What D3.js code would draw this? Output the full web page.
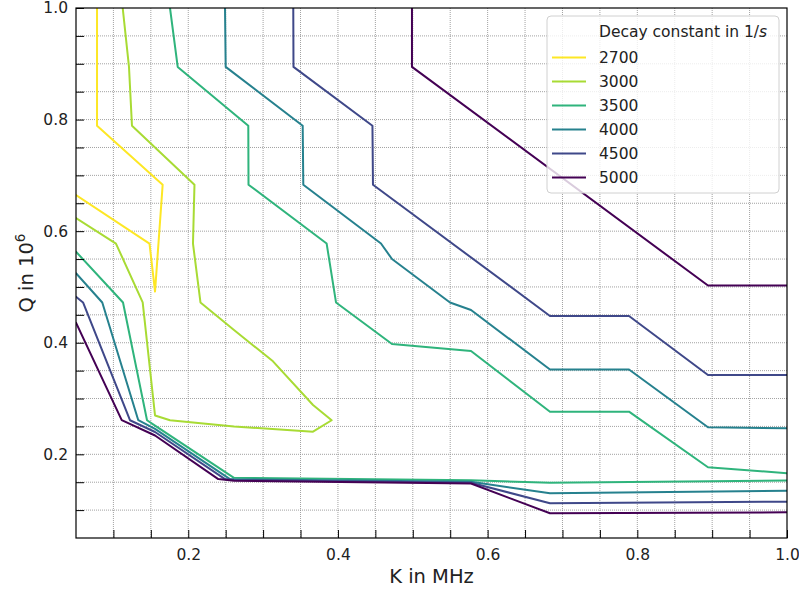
<!DOCTYPE html>
<html>
<head>
<meta charset="utf-8">
<script src="https://cdn.jsdelivr.net/npm/d3@7"></script>
<style>
  html, body { margin: 0; padding: 0; background: #fff; }
  svg { display: block; font-family: "DejaVu Sans", sans-serif; }
</style>
</head>
<body>
<svg id="chart" width="799" height="590"></svg>
<script>
// ---- Data (K in MHz, Q in 10^6) ----
const levels = [2700, 3000, 3500, 4000, 4500, 5000];
const xTicks = [0.2, 0.4, 0.6, 0.8, 1.0];
const yTicks = [0.2, 0.4, 0.6, 0.8, 1.0];

const c2700 = [[[0.0781,1.0],[0.0781,0.7889],[0.1658,0.6833],[0.1556,0.4918],[0.1482,0.5778],[0.05,0.6648]]];

const c3000 = [[[0.05,0.6236],[0.1034,0.5778],[0.1391,0.4722],[0.1556,0.2696],[0.1756,0.2611],
  [0.2611,0.2499],[0.3667,0.2405],[0.3916,0.2611],[0.3667,0.2884],[0.3132,0.3667],[0.2611,0.4228],
  [0.2163,0.4722],[0.2063,0.5778],[0.2083,0.6833],[0.1248,0.7889],[0.1208,0.8944],[0.1124,1.0]]];

const c3500 = [
  [[0.1756,1.0],[0.1859,0.8944],[0.2802,0.7889],[0.2805,0.6833],[0.3849,0.5778],[0.3974,0.4722],
   [0.4722,0.3977],[0.5778,0.3852],[0.6833,0.2764],[0.7889,0.2764],[0.8944,0.1769],[1.0,0.1660]],
  [[0.05,0.5632],[0.1128,0.4722],[0.1449,0.2611],[0.1556,0.2513],[0.2611,0.1579],[0.5778,0.1534],
   [0.6833,0.1491],[1.0,0.1531]]
];

const c4000 = [
  [[0.2491,1.0],[0.2500,0.8944],[0.3529,0.7889],[0.3537,0.6833],[0.4575,0.5778],[0.4722,0.5501],
   [0.5497,0.4722],[0.5778,0.4587],[0.6833,0.3520],[0.7889,0.3520],[0.8944,0.2484],[1.0,0.2466]],
  [[0.05,0.5245],[0.0851,0.4722],[0.1332,0.2611],[0.1556,0.2457],[0.2557,0.1556],[0.2611,0.1552],
   [0.5778,0.1507],[0.6833,0.1301],[1.0,0.1348]]
];

const c4500 = [
  [[0.3403,1.0],[0.3406,0.8944],[0.4461,0.7889],[0.4468,0.6833],[0.6833,0.4479],[0.7889,0.4479],
   [0.8944,0.3422],[1.0,0.3422]],
  [[0.05,0.4825],[0.0594,0.4722],[0.1221,0.2611],[0.1556,0.2400],[0.2491,0.1556],[0.2611,0.1540],
   [0.5778,0.1491],[0.6833,0.1122],[1.0,0.1151]]
];

const c5000 = [
  [[0.4989,1.0],[0.4989,0.8944],[0.8944,0.5026],[1.0,0.5026]],
  [[0.05,0.4359],[0.1111,0.2612],[0.1556,0.2337],[0.2401,0.1556],[0.2611,0.1525],[0.5778,0.1477],
   [0.6833,0.0943],[1.0,0.0961]]
];

const contourSets = [c2700, c3000, c3500, c4000, c4500, c5000];

// ---- Layout ----
const svg = d3.select("#chart");
const pL = 76, pR = 787, pT = 8, pB = 538;
const x = d3.scaleLinear().domain([0.05, 1.0]).range([pL, pR]);
const y = d3.scaleLinear().domain([0.05, 1.0]).range([pB, pT]);
const color = v => d3.interpolateViridis(1 - (v - 2700) / 2300);

const minorVals = d3.range(1, 21).map(i => +(i * 0.05).toFixed(2));

svg.append("defs").append("clipPath").attr("id", "clip")
  .append("rect").attr("x", pL).attr("y", pT).attr("width", pR - pL).attr("height", pB - pT);

// Grid
const grid = svg.append("g");
const inner = minorVals.filter(v => v > 0.05 && v < 1.0);
grid.selectAll(".gx").data(inner).enter().append("line")
  .attr("x1", d => x(d)).attr("x2", d => x(d)).attr("y1", pT).attr("y2", pB)
  .attr("stroke", "#8a8a8a").attr("stroke-width", 0.8).attr("stroke-dasharray", "1,1");
grid.selectAll(".gy").data(inner).enter().append("line")
  .attr("y1", d => y(d)).attr("y2", d => y(d)).attr("x1", pL).attr("x2", pR)
  .attr("stroke", "#8a8a8a").attr("stroke-width", 0.8).attr("stroke-dasharray", "1,1");

// Contours
const line = d3.line().x(d => x(d[0])).y(d => y(d[1]));
const plot = svg.append("g").attr("clip-path", "url(#clip)");
contourSets.forEach((segs, i) => {
  segs.forEach(seg => {
    plot.append("path").attr("d", line(seg)).attr("fill", "none")
      .attr("stroke", color(levels[i])).attr("stroke-width", 2)
      .attr("stroke-linejoin", "round").attr("stroke-linecap", "round");
  });
});

// Axes (ticks inward)
const isLabel = (arr, d) => arr.some(t => Math.abs(t - d) < 1e-6);
const xAxis = d3.axisBottom(x).tickValues(minorVals.filter(v => v > 0.05)).tickSizeInner(-8).tickSizeOuter(0)
  .tickFormat(d => isLabel(xTicks, d) ? d3.format(".1f")(d) : "").tickPadding(11);
const gx = svg.append("g").attr("transform", `translate(0,${pB})`).call(xAxis);
gx.select(".domain").remove();
gx.selectAll("line").attr("stroke", "#000").attr("stroke-width", 1);
gx.selectAll("text").attr("font-size", "15.5px").attr("fill", "#222").attr("font-family", "DejaVu Sans");

const yAxis = d3.axisLeft(y).tickValues(minorVals.filter(v => v > 0.05)).tickSizeInner(-8).tickSizeOuter(0)
  .tickFormat(d => isLabel(yTicks, d) ? d3.format(".1f")(d) : "").tickPadding(8);
const gy = svg.append("g").attr("transform", `translate(${pL},0)`).call(yAxis);
gy.select(".domain").remove();
gy.selectAll("line").attr("stroke", "#000").attr("stroke-width", 1);
gy.selectAll("text").attr("font-size", "15.5px").attr("fill", "#222").attr("font-family", "DejaVu Sans");

// Frame
svg.append("rect").attr("x", pL).attr("y", pT).attr("width", pR - pL).attr("height", pB - pT)
  .attr("fill", "none").attr("stroke", "#000").attr("stroke-width", 1.2);

// Axis labels
svg.append("text").attr("x", (pL + pR) / 2).attr("y", 583).attr("text-anchor", "middle")
  .attr("font-size", "19.5px").attr("fill", "#222").text("K in MHz");
const yl = svg.append("text").attr("transform", "translate(33,273) rotate(-90)")
  .attr("text-anchor", "middle").attr("font-size", "19.5px").attr("fill", "#222");
yl.append("tspan").text("Q in 10");
yl.append("tspan").attr("font-size", "13.5px").attr("dy", "-8").text("6");

// Legend
const lg = svg.append("g");
lg.append("rect").attr("x", 547).attr("y", 16).attr("width", 232).attr("height", 177).attr("rx", 4)
  .attr("fill", "#fff").attr("fill-opacity", 0.8).attr("stroke", "#d0d0d0").attr("stroke-width", 1);
const lt = lg.append("text").attr("x", 599).attr("y", 37).attr("font-size", "15.5px").attr("fill", "#222");
lt.append("tspan").text("Decay constant in 1/");
lt.append("tspan").attr("font-style", "italic").text("s");
levels.forEach((lev, i) => {
  const cy = 57.5 + i * 24;
  lg.append("line").attr("x1", 552).attr("x2", 586).attr("y1", cy).attr("y2", cy)
    .attr("stroke", color(lev)).attr("stroke-width", 2);
  lg.append("text").attr("x", 599).attr("y", cy + 5.5).attr("font-size", "15.5px").attr("fill", "#222").text(lev);
});
</script>
</body>
</html>
